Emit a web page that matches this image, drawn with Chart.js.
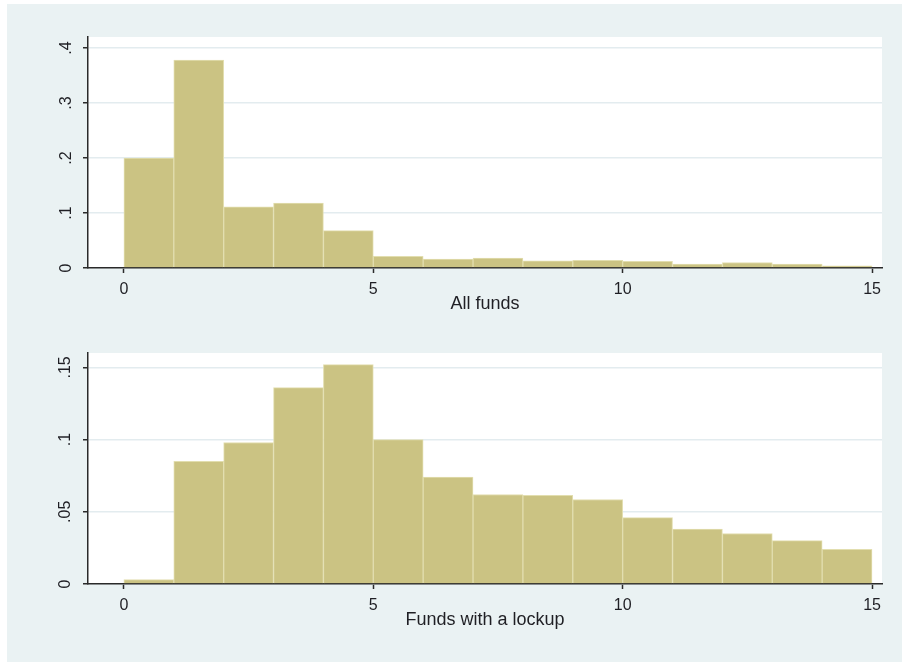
<!DOCTYPE html>
<html>
<head>
<meta charset="utf-8">
<script src="https://cdn.jsdelivr.net/npm/chart.js@4.4.1/dist/chart.umd.min.js"></script>
<style>
  html, body { margin: 0; padding: 0; background: #fff; }
  body { width: 902px; height: 665px; position: relative; overflow: hidden; }
  #frame { position: absolute; left: 7px; top: 4px; width: 895px; height: 658px; background: #eaf2f3; }
  canvas { position: absolute; left: 0; }
  #top { top: 0; }
  #bottom { top: 332px; }
</style>
</head>
<body>
<div id="frame"></div>
<canvas id="top" width="902" height="332"></canvas>
<canvas id="bottom" width="902" height="333"></canvas>
<script>
// ── Data (density per 1-unit bin) ─────────────────────────
const binStarts = [0, 1, 2, 3, 4, 5, 6, 7, 8, 9, 10, 11, 12, 13, 14];
const allFunds = [0.200, 0.378, 0.111, 0.118, 0.068, 0.021, 0.016, 0.018, 0.013, 0.014, 0.012, 0.007, 0.010, 0.007, 0.004];
const lockupFunds = [0.003, 0.085, 0.098, 0.136, 0.152, 0.100, 0.074, 0.062, 0.0615, 0.0585, 0.046, 0.038, 0.035, 0.030, 0.024];
const xTicks = [0, 5, 10, 15];
const allYTicks = [0, 0.1, 0.2, 0.3, 0.4];
const lockupYTicks = [0, 0.05, 0.1, 0.15];

// ── Theme ─────────────────────────────────────────────────
const FONT = "'Liberation Sans', Arial, sans-serif";
const INK = '#1f1f24';
const AXIS = '#2a2a2a';
const GRID = '#e3ecef';
const BAR = '#cbc383';
const BAR_EDGE = '#e2deaf';

Chart.defaults.font.family = FONT;
Chart.defaults.color = INK;

const plotBg = {
  id: 'plotBg',
  beforeDraw(chart) {
    const { ctx, chartArea: a } = chart;
    ctx.save();
    ctx.fillStyle = '#ffffff';
    ctx.fillRect(a.left, a.top, a.right - a.left, a.bottom - a.top);
    ctx.restore();
  },
};

const fmt = v => (v === 0 ? '0' : String(v).replace(/^0/, ''));

function histogram(id, values, yTicks, yMax, title, g) {
  const ctx = document.getElementById(id).getContext('2d');
  return new Chart(ctx, {
    type: 'bar',
    data: {
      datasets: [{
        data: values.map((v, i) => ({ x: binStarts[i] + 0.5, y: v })),
        backgroundColor: BAR,
        borderColor: BAR_EDGE,
        borderWidth: 1,
        barPercentage: 1,
        categoryPercentage: 1,
      }],
    },
    options: {
      responsive: false,
      animation: false,
      layout: { padding: { left: 0, right: 20, top: g.top, bottom: 0 } },
      plugins: { legend: { display: false }, tooltip: { enabled: false } },
      scales: {
        x: {
          type: 'linear',
          offset: false,
          min: -0.72,
          max: 15.2,
          afterBuildTicks: s => { s.ticks = xTicks.map(v => ({ value: v })); },
          afterFit: s => { s.height = g.xHeight; },
          grid: { offset: false, drawOnChartArea: false, drawTicks: true, tickLength: 5, tickColor: AXIS, tickWidth: 1.5 },
          border: { display: true, color: AXIS, width: 1.5 },
          ticks: { font: { size: 16 }, padding: 7, maxRotation: 0, autoSkip: false, color: INK },
          title: { display: true, text: title, font: { size: 18 }, color: INK, padding: { top: 0, bottom: g.titlePad } },
        },
        y: {
          min: 0,
          max: yMax,
          afterBuildTicks: s => { s.ticks = yTicks.map(v => ({ value: v })); },
          afterFit: s => { s.width = 88; },
          grid: { color: GRID, lineWidth: 1.5, tickLength: 5, tickColor: AXIS, tickWidth: 1.5 },
          border: { display: true, color: AXIS, width: 1.5 },
          ticks: {
            font: { size: 16 },
            minRotation: 90,
            maxRotation: 90,
            crossAlign: 'center',
            padding: g.yPad,
            color: INK,
            callback: v => fmt(v),
          },
        },
      },
    },
    plugins: [plotBg],
  });
}

histogram('top', allFunds, allYTicks, 0.42, 'All funds', { top: 37, xHeight: 64, titlePad: 17, yPad: 10 });
histogram('bottom', lockupFunds, lockupYTicks, 0.16, 'Funds with a lockup', { top: 21, xHeight: 81, titlePad: 34, yPad: 6 });
</script>
</body>
</html>
